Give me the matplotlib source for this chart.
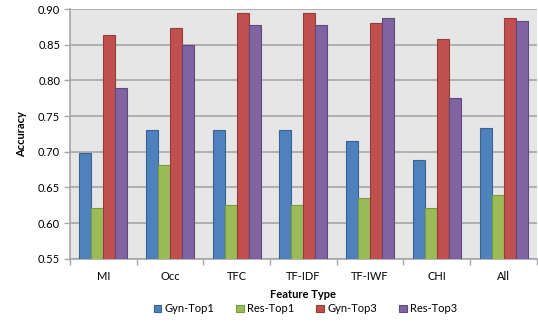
import matplotlib
matplotlib.use("Agg")
import matplotlib.pyplot as plt
import numpy as np

categories = ["MI", "Occ", "TFC", "TF-IDF", "TF-IWF", "CHI", "All"]
gyn_top1 = [0.699, 0.731, 0.731, 0.731, 0.715, 0.688, 0.734]
res_top1 = [0.621, 0.682, 0.625, 0.625, 0.635, 0.621, 0.639]
gyn_top3 = [0.863, 0.874, 0.894, 0.894, 0.880, 0.858, 0.888]
res_top3 = [0.789, 0.850, 0.878, 0.878, 0.888, 0.775, 0.883]
series_names = ["Gyn-Top1", "Res-Top1", "Gyn-Top3", "Res-Top3"]
y_ticks = [0.55, 0.60, 0.65, 0.70, 0.75, 0.80, 0.85, 0.90]

fills = ["#4F81BD", "#9BBB59", "#C0504D", "#8064A2"]
edges = ["#3A6394", "#7A9A3E", "#943C39", "#5F4A7D"]

plt.rcParams['font.family'] = ['Lato', 'DejaVu Sans']

fig = plt.figure(figsize=(5.38, 3.22), dpi=100)
ax = fig.add_axes([0.130, 0.196, 0.868, 0.776])
ax.set_facecolor("#E6E6E6")

x = np.arange(len(categories))
w = 0.18
series = [gyn_top1, res_top1, gyn_top3, res_top3]
for i, (vals, name) in enumerate(zip(series, series_names)):
    offs = (i - 1.5) * w
    ax.bar(x + offs, vals, width=w, bottom=0, color=fills[i], edgecolor=edges[i],
           linewidth=0.8, label=name, zorder=3)

ax.set_ylim(0.55, 0.90)
ax.set_xlim(-0.5, len(categories) - 0.5)
ax.set_yticks(y_ticks)
ax.set_yticklabels([f"{t:.2f}" for t in y_ticks], fontsize=8)
ax.grid(axis="y", color="#A6A6A6", linewidth=1.2, zorder=1)
ax.set_xticks(x)
ax.set_xticklabels(categories, fontsize=8)
ax.tick_params(axis="x", length=0, pad=9)
ax.set_xticks(np.arange(len(categories) + 1) - 0.5, minor=True)
ax.tick_params(axis="x", which="minor", length=4, color="#A6A6A6", width=1)
ax.tick_params(axis="y", length=4, color="#A6A6A6", width=1, pad=3)

for s in ["top", "right"]:
    ax.spines[s].set_visible(False)
for s in ["left", "bottom"]:
    ax.spines[s].set_color("#A6A6A6")
    ax.spines[s].set_linewidth(1.2)

ax.set_ylabel("Accuracy", fontsize=8, fontweight="bold", labelpad=8)
ax.set_xlabel("Feature Type", fontsize=8, fontweight="bold", labelpad=5)

leg = ax.legend(loc="center", bbox_to_anchor=(0.504, -0.2), ncol=4,
                frameon=False, fontsize=8, handlelength=0.7, handleheight=0.7,
                handletextpad=0.3, columnspacing=1.95, borderpad=0.1)

fig.savefig("out.png", dpi=100)
